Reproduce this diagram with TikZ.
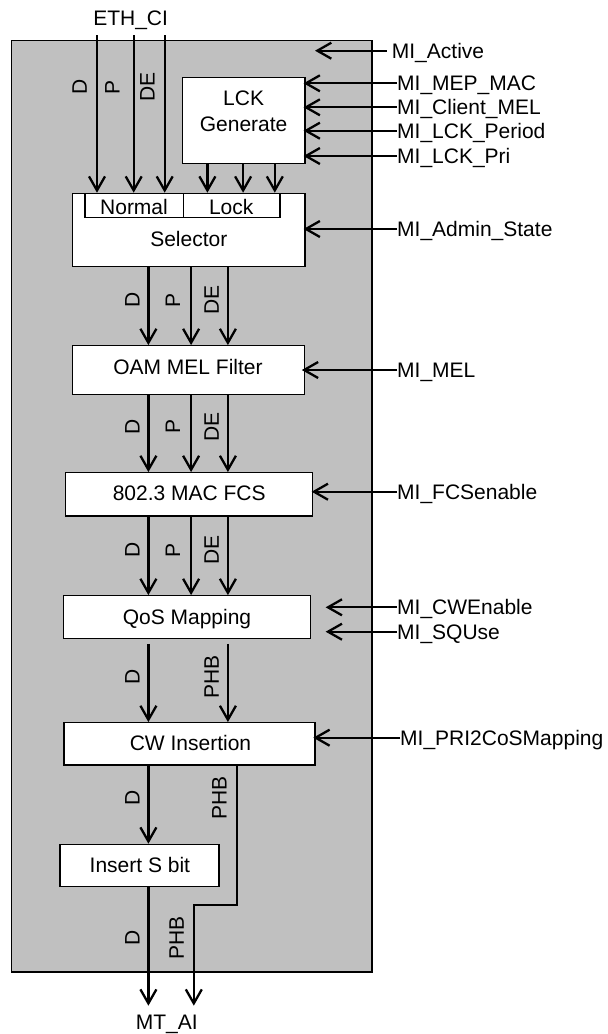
\documentclass[tikz,border=0pt]{standalone}
\usepackage{fontspec}
\setmainfont{Liberation Sans}
\usetikzlibrary{arrows.meta}
\definecolor{bg}{RGB}{192,192,192}
\begin{document}
\begin{tikzpicture}[x=1pt,y=-1pt,
  every node/.style={font=\fontsize{21}{26}\selectfont},
  frame/.style={draw=black, line width=1.2pt, fill=bg, inner sep=0pt},
  box/.style={draw=black, line width=1.2pt, fill=white, inner sep=0pt},
  txt/.style={inner sep=0pt, text height=15pt, text depth=0pt},
  ttl/.style={inner sep=0pt, align=center},
  vlab/.style={rotate=90, inner sep=0pt, text height=15pt, text depth=0pt},
  mil/.style={anchor=west, inner sep=0pt, text height=15pt, text depth=0pt},
  sig/.style={line width=2.3pt, -{Straight Barb[length=14pt,width=16pt]}},
]
\useasboundingbox (0,0) rectangle (608,1034);

% container
\node[frame, minimum width=360.4pt, minimum height=931.3pt] (frm) at (191.8,506.35) {};

% boxes
\node[box, minimum width=122.8pt, minimum height=85.6pt] (lck) at (243.6,120.5) {};
\node[ttl] (lckt) at (243.6,111) {LCK\\Generate};
\node[box, minimum width=232.3pt, minimum height=73.4pt] (sel) at (188.85,230) {};
\node[txt] (selt) at (188.8,239.3) {Selector};
\node[box, minimum width=98.3pt, minimum height=24.4pt] (normal) at (134.15,205.5) {};
\node[txt] (normalt) at (134,206.5) {Normal};
\node[box, minimum width=96.7pt, minimum height=24.4pt] (lock) at (231.65,205.5) {};
\node[txt] (lockt) at (231.2,206.5) {Lock};
\node[box, minimum width=232.2pt, minimum height=48.6pt] (oam) at (188.5,370) {};
\node[txt] (oamt) at (188,367) {OAM MEL Filter};
\node[box, minimum width=246.7pt, minimum height=43.3pt] (mac) at (189.2,494.3) {};
\node[txt] (mact) at (189.2,493) {802.3 MAC FCS};
\node[box, minimum width=247.5pt, minimum height=42.6pt] (qos) at (187,617) {};
\node[txt] (qost) at (187,617) {QoS Mapping};
\node[box, minimum width=251pt, minimum height=42.3pt] (cw) at (189.5,743.8) {};
\node[txt] (cwt) at (190.5,743.3) {CW Insertion};
\node[box, minimum width=159pt, minimum height=42.4pt] (sbit) at (139.5,865.5) {};
\node[txt] (sbitt) at (139.9,865) {Insert S bit};

% external labels
\node[txt] (ethci) at (130.6,18) {ETH\_CI};
\node[txt] (mtai) at (166.7,1021.7) {MT\_AI};

% column coordinates
\coordinate (inD) at (97,35);
\coordinate (inP) at (133.7,35);
\coordinate (inE) at (164.7,35);
\coordinate (lA) at (207.4,0);
\coordinate (lB) at (243.1,0);
\coordinate (lC) at (274.8,0);
\coordinate (cD) at (148.4,0);
\coordinate (cP) at (191.1,0);
\coordinate (cE) at (227.9,0);
\coordinate (cH) at (237.1,0);
\coordinate (cH2) at (193.8,0);
\coordinate (bend) at (0,905);
\coordinate (bot) at (0,1005.7);

% input arrows
\draw[sig] (inD) -- (inD |- normal.north);
\draw[sig] (inP) -- (inP |- normal.north);
\draw[sig] (inE) -- (inE |- normal.north);
\node[vlab] (l1) at (79.4,87) {D};
\node[vlab] (l2) at (112.1,87) {P};
\node[vlab] (l3) at (147.2,87) {DE};

% LCK to lock
\draw[sig] (lA |- lck.south) -- (lA |- lock.north);
\draw[sig] (lB |- lck.south) -- (lB |- lock.north);
\draw[sig] (lC |- lck.south) -- (lC |- lock.north);

% selector -> oam
\draw[sig] (cD |- sel.south) -- (cD |- oam.north);
\draw[sig] (cP |- sel.south) -- (cP |- oam.north);
\draw[sig] (cE |- sel.south) -- (cE |- oam.north);
\node[vlab] (l4) at (132,300) {D};
\node[vlab] (l5) at (172.6,300) {P};
\node[vlab] (l6) at (211.3,300) {DE};

% oam -> mac
\draw[sig] (cD |- oam.south) -- (cD |- mac.north);
\draw[sig] (cP |- oam.south) -- (cP |- mac.north);
\draw[sig] (cE |- oam.south) -- (cE |- mac.north);
\node[vlab] (l7) at (132,426.7) {D};
\node[vlab] (l8) at (172.6,426.7) {P};
\node[vlab] (l9) at (211.3,426.7) {DE};

% mac -> qos
\draw[sig] (cD |- mac.south) -- (cD |- qos.north);
\draw[sig] (cP |- mac.south) -- (cP |- qos.north);
\draw[sig] (cE |- mac.south) -- (cE |- qos.north);
\node[vlab] (l10) at (132,550) {D};
\node[vlab] (l11) at (172.6,550) {P};
\node[vlab] (l12) at (211.3,550) {DE};

% qos -> cw
\draw[sig, shorten <=5pt] (cD |- qos.south) -- (cD |- cw.north);
\draw[sig, shorten <=5pt] (cE |- qos.south) -- (cE |- cw.north);
\node[vlab] (l13) at (132,676.7) {D};
\node[vlab] (l14) at (211.3,676.7) {PHB};

% cw -> sbit, PHB bypass
\draw[sig] (cD |- cw.south) -- (cD |- sbit.north);
\node[vlab] (l15) at (132,798) {D};
\node[vlab] (l16) at (219,798) {PHB};
\draw[sig] (cH |- cw.south) -- (cH |- bend) -- (cH2 |- bend) -- (cH2 |- bot);

% sbit -> out
\draw[sig] (cD |- sbit.south) -- (cD |- bot);
\node[vlab] (l17) at (132,938.3) {D};
\node[vlab] (l18) at (176.3,938) {PHB};

% management inputs
\node[mil] (mia) at (391.7,50.7) {MI\_Active};
\coordinate (actTip) at (315,50.7);
\draw[sig] ([xshift=-5pt]mia.west) -- (actTip);

\node[mil] (mep) at (397,83.3) {MI\_MEP\_MAC};
\node[mil] (cmel) at (397,107.3) {MI\_Client\_MEL};
\node[mil] (per) at (397,130.7) {MI\_LCK\_Period};
\node[mil] (pri) at (397,156) {MI\_LCK\_Pri};
\draw[sig, shorten >=-2pt] (mep.west) -- (mep.west -| lck.east);
\draw[sig, shorten >=-2pt] (cmel.west) -- (cmel.west -| lck.east);
\draw[sig, shorten >=-2pt] (per.west) -- (per.west -| lck.east);
\draw[sig, shorten >=-2pt] (pri.west) -- (pri.west -| lck.east);

\node[mil] (adm) at (397,229) {MI\_Admin\_State};
\draw[sig, shorten >=-2pt] (adm.west) -- (adm.west -| sel.east);

\node[mil] (mel) at (397,370) {MI\_MEL};
\draw[sig, shorten >=-3.4pt] (mel.west) -- (mel.west -| oam.east);

\node[mil] (fcs) at (397,491.7) {MI\_FCSenable};
\draw[sig, shorten >=-1.5pt] (fcs.west) -- (fcs.west -| mac.east);

\node[mil] (cwe) at (397,607.3) {MI\_CWEnable};
\node[mil] (squ) at (397,631.7) {MI\_SQUse};
\draw[sig, shorten >=14.3pt] (cwe.west) -- (cwe.west -| qos.east);
\draw[sig, shorten >=14.3pt] (squ.west) -- (squ.west -| qos.east);

\node[mil] (pri2) at (400,737.7) {MI\_PRI2CoSMapping};
\draw[sig, shorten >=-2.3pt] (pri2.west) -- (pri2.west -| cw.east);
\end{tikzpicture}
\end{document}
